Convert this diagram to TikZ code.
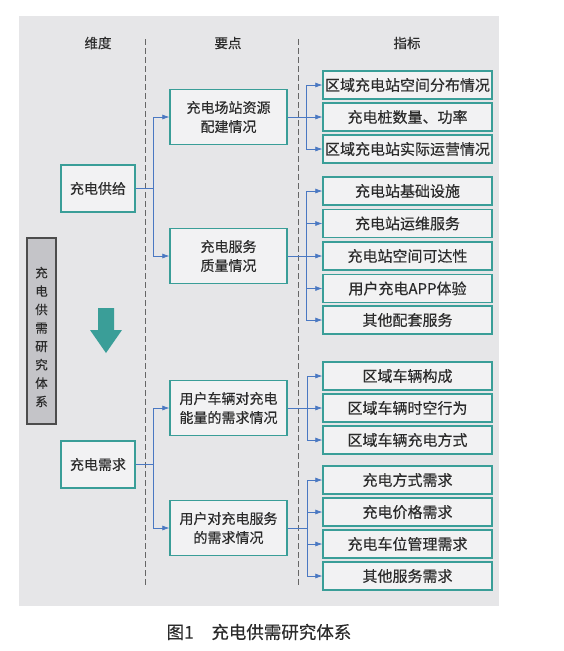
\documentclass[tikz,border=0pt]{standalone}
\usepackage{fontspec}
\setmainfont{Noto Sans CJK SC}[FakeBold=0.35]
\usepackage{xcolor}
\usetikzlibrary{calc, positioning, arrows.meta}
\definecolor{panelgray}{HTML}{E6E6E8}
\definecolor{boxteal}{HTML}{3A9E98}
\definecolor{linkblue}{HTML}{4A78C2}
\definecolor{sidegray}{HTML}{C4C4C8}
\definecolor{inkgray}{HTML}{2B2B2B}

\begin{document}
\begin{tikzpicture}[x=1pt, y=-1pt,
        box/.style = {draw=boxteal, line width=1.3pt, fill=panelgray!50!white, text=inkgray, align=center, inner sep=0pt},
        dimbox/.style = {box, minimum width=74pt, minimum height=47pt, font=\fontsize{14}{19}\selectfont},
        keybox/.style = {box, minimum width=117pt, minimum height=55pt, font=\fontsize{14}{19}\selectfont},
        indbox/.style = {box, minimum width=169pt, minimum height=28pt, font=\fontsize{15}{18}\selectfont},
        link/.style = {draw=linkblue, line width=0.65pt},
        linkarrow/.style = {link, -{Latex[length=7pt, width=5pt]}},
        sep/.style = {draw=black!60, line width=0.6pt, dash pattern=on 6pt off 3pt}]
    \useasboundingbox (0,0) rectangle (563,651);
    \fill[panelgray] (19,16) rectangle (499,606);

    % column heads and separators
    \begin{scope}[every node/.style = {font=\fontsize{13.5}{16}\selectfont, text=inkgray}]
        \node (H1) at (98,43) {维度};
        \node (H2) at (228,43) {要点};
        \node (H3) at (407,43) {指标};
    \end{scope}
    \draw[sep] (145,39) -- (145,587);
    \draw[sep] (298,39) -- (298,587);

    % side label and arrow
    \node[draw=black!70, line width=1.2pt, fill=sidegray, minimum width=29pt, minimum height=186pt, inner sep=0pt] (S) at (41.5,331) {};
    \node[font=\fontsize{12.5}{18.4}\selectfont, text=inkgray, align=center, yshift=-6pt] (Stxt) at (S.center) {充\\电\\供\\需\\研\\究\\体\\系};
    \fill[boxteal] (98,308) -- (114,308) -- (114,330) -- (122,330) -- (106,353) -- (90,330) -- (98,330) -- cycle;

    % dimensions
    \node[dimbox] (A1) at (98,188.5) {充电供给};
    \node[dimbox] (A2) at (98,464.5) {充电需求};

    % key points
    \node[keybox] (B1) at (228.5,117) {充电场站资源\\配建情况};
    \node[keybox] (B2) at (228.5,256) {充电服务\\质量情况};
    \node[keybox] (B3) at (228.5,408) {用户车辆对充电\\能量的需求情况};
    \node[keybox] (B4) at (228.5,528) {用户对充电服务\\的需求情况};

    % indicators
    \foreach \n/\y/\t in {1/85/区域充电站空间分布情况, 2/117/充电桩数量、功率, 3/149/区域充电站实际运营情况,
                          4/191/充电站基础设施, 5/223.5/充电站运维服务, 6/256/充电站空间可达性, 7/288.5/用户充电APP体验, 8/320/其他配套服务,
                          9/376/区域车辆构成, 10/408/区域车辆时空行为, 11/440/区域车辆充电方式,
                          12/480/充电方式需求, 13/512/充电价格需求, 14/544/充电车位管理需求, 15/576/其他服务需求}{
        \node[indbox] (C\n) at (407.5,\y) {\t};
    }

    \draw[link] (A1.east) -- ++(18,0) coordinate (J1);
    \draw[linkarrow] (J1) |- (B1.west);
    \draw[linkarrow] (J1) |- (B2.west);
    \draw[link] (A2.east) -- ++(18,0) coordinate (J2);
    \draw[linkarrow] (J2) |- (B3.west);
    \draw[linkarrow] (J2) |- (B4.west);

    \draw[link] (B1.east) -- ++(19,0) coordinate (K1);
    \foreach \n in {1, 2, 3}{ \draw[linkarrow] (K1) |- (C\n.west); }
    \draw[link] (B2.east) -- ++(19,0) coordinate (K2);
    \foreach \n in {4, 5, 6, 7, 8}{ \draw[linkarrow] (K2) |- (C\n.west); }
    \draw[link] (B3.east) -- ++(20,0) coordinate (K3);
    \foreach \n in {9, 10, 11}{ \draw[linkarrow] (K3) |- (C\n.west); }
    \draw[link] (B4.east) -- ++(20,0) coordinate (K4);
    \foreach \n in {12, 13, 14, 15}{ \draw[linkarrow] (K4) |- (C\n.west); }

    % caption
    \node[font=\fontsize{17.5}{20}\selectfont, text=inkgray] (cap) at (259,632) {图1\hspace{1em}充电供需研究体系};
\end{tikzpicture}
\end{document}
